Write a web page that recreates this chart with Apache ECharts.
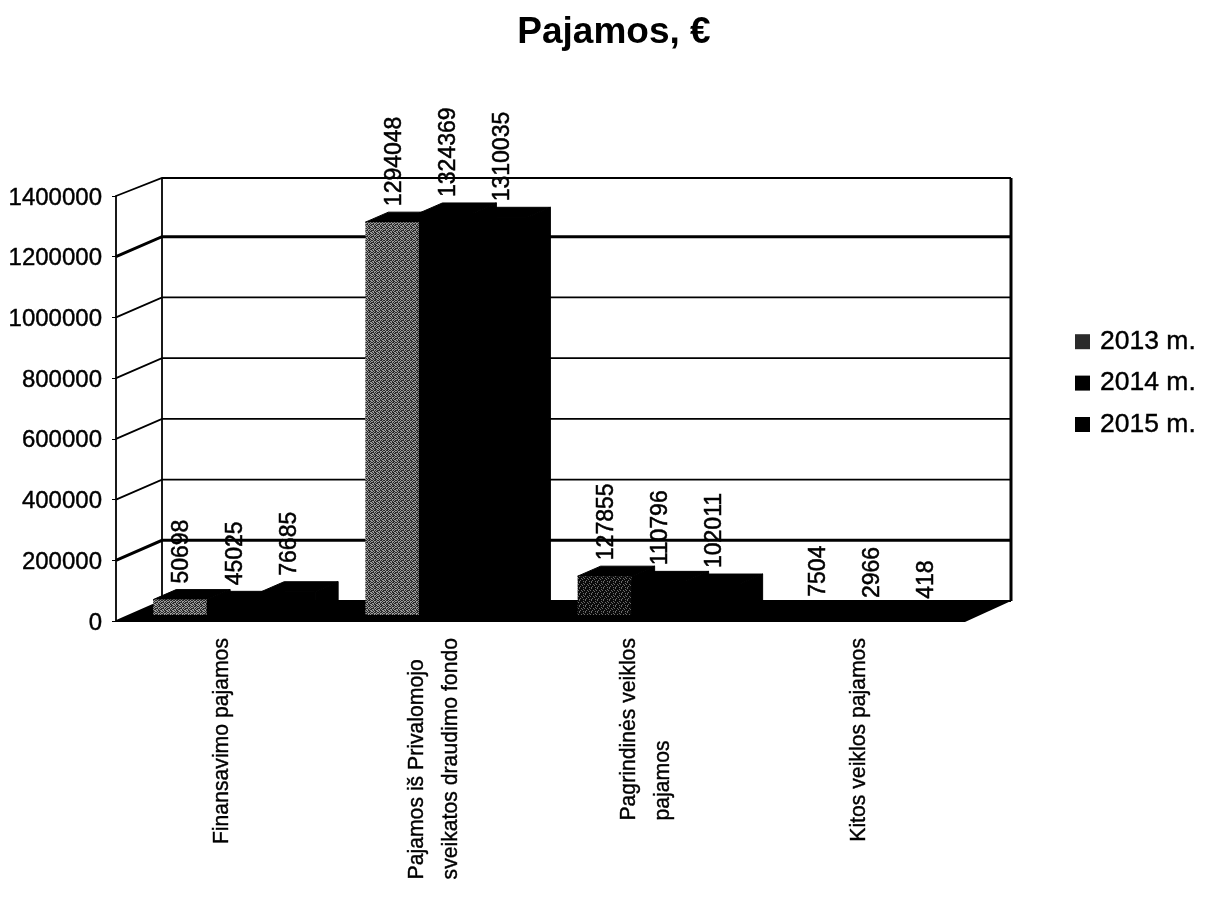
<!DOCTYPE html>
<html><head><meta charset="utf-8">
<style>html,body{margin:0;padding:0;background:#fff}#c{width:1209px;height:907px}</style>
<script src="https://cdn.jsdelivr.net/npm/echarts@6/dist/echarts.min.js"></script>
</head><body><div id="c"></div>
<script>
const categories = ['Finansavimo pajamos','Pajamos iš Privalomojo\nsveikatos draudimo fondo','Pagrindinės veiklos\npajamos','Kitos veiklos pajamos'];
const seriesNames = ['2013 m.','2014 m.','2015 m.'];
const values2013 = [50698,1294048,127855,7504];
const values2014 = [45025,1324369,110796,2966];
const values2015 = [76685,1310035,102011,418];
const axisTicks = [0,200000,400000,600000,800000,1000000,1200000,1400000];

const FONT = '"Liberation Sans", Arial, sans-serif';
function makeTile(light, dark, bits){
  const n = bits.length, cv = document.createElement('canvas');
  cv.width = n; cv.height = n;
  const g = cv.getContext('2d');
  bits.forEach((row,y)=>[...row].forEach((ch,x)=>{g.fillStyle = ch==='1'?dark:light; g.fillRect(x,y,1,1);}));
  return {image:cv, repeat:'repeat'};
}
const greyTile = makeTile('#9a9a9a','#2a2a2a',['101101','010010','110101','001011','101100','010110']);
const darkTile = makeTile('#6a6a6a','#0a0a0a',['111011','101111','110110','011111','111101','101011']);

const WALL_DX = 46, WALL_DY = 20;
const BAR_WIDTH_SHARE = 54/212.25, DEPTH_DX = 23, DEPTH_DY = 10, BASE_DX = 12, BASE_DY = 6;
const solid = {fill:'#000', stroke:'#000', lineWidth:1};

function renderWall(params, api){
  const v = api.value(0), cs = params.coordSys;
  const y = api.coord([0, v])[1];
  const left = cs.x, back = left + WALL_DX, right = cs.x + cs.width + WALL_DX;
  const by = y - (v===1400000 ? 18 : WALL_DY);
  const w = (v===200000 || v===1200000) ? 3 : 1.8;
  const children = [{type:'polyline', shape:{points:[[left,y],[back,by],[right,by]]}, style:{stroke:'#000', lineWidth:w, fill:null}}];
  if (v===0) {
    const top = cs.y - 18;
    children.push({type:'line', shape:{x1:back,y1:by,x2:back,y2:top}, style:{stroke:'#000',lineWidth:1.8}});
    children.push({type:'line', shape:{x1:right,y1:by,x2:right,y2:top}, style:{stroke:'#000',lineWidth:3}});
    children.push({type:'polygon', shape:{points:[[left-2,y+1],[cs.x+cs.width,y+1],[right,by],[back,by]]}, style:{fill:'#000'}});
  }
  return {type:'group', children};
}
function renderBars(si){
  return function(params, api){
    const c = api.value(0), v = api.value(1);
    const p = api.coord([c, v]), p0 = api.coord([c, 0]);
    const bw = api.size([1,0])[0]*BAR_WIDTH_SHARE;
    const x0 = p[0] + BASE_DX - 1.5*bw + si*bw, x1 = x0 + bw;
    const yB = p0[1] - BASE_DY, yT = p[1] - BASE_DY;
    const patterned = si===0 && c<3;
    const front = patterned ? {fill: c===2 ? darkTile : greyTile} : solid;
    return {type:'group', children:[
      {type:'polygon', shape:{points:[[x0,yT],[x0+DEPTH_DX,yT-DEPTH_DY],[x1+DEPTH_DX,yT-DEPTH_DY],[x1,yT]]}, style:solid},
      {type:'polygon', shape:{points:[[x1,yT],[x1+DEPTH_DX,yT-DEPTH_DY],[x1+DEPTH_DX,yB-DEPTH_DY],[x1,yB]]}, style:solid},
      {type:'rect', shape:{x:x0,y:yT,width:bw,height:yB-yT}, style:front},
      {type:'text', x:x0+bw/2+2, y:yT-16, rotation:Math.PI/2, z2:50,
       style:{text:String(v), align:'left', verticalAlign:'middle', font:'23px '+FONT, fill:'#000', stroke:'#000', lineWidth:0.5}}
    ]};
  };
}
const barSeries = [values2013,values2014,values2015].map((vals,si)=>({
  name:seriesNames[si], type:'custom', coordinateSystem:'cartesian2d', z:3,
  itemStyle:{color: si===0 ? '#2b2b2b' : '#000'},
  renderItem:renderBars(si), encode:{x:0,y:1},
  data:vals.map((v,i)=>[i,v])
}));
const chart = echarts.init(document.getElementById('c'), null, {renderer:'canvas'});
chart.setOption({
  animation:false, backgroundColor:'#fff',
  title:{text:'Pajamos, €', left:609, top:9, textAlign:'center',
    textStyle:{fontFamily:FONT, fontSize:37, fontWeight:'bold', color:'#000'}},
  legend:{orient:'vertical', left:1070, top:323, itemWidth:15, itemHeight:15, itemGap:14,
    data:seriesNames, selectedMode:false, icon:'rect',
    textStyle:{fontFamily:FONT, fontSize:26.5, color:'#000', padding:[0,0,0,5], textBorderColor:'#000', textBorderWidth:0.4}},
  grid:{left:116, right:244, top:196, bottom:286, outerBoundsMode:'none'},
  xAxis:{type:'category', data:categories, axisLine:{show:false}, axisTick:{show:false},
    axisLabel:{rotate:90, interval:0, margin:17, color:'#000',
      formatter:s=>s.split('\n').map(t=>'{l|'+t+'}').join('\n'),
      rich:{l:{align:'left', fontFamily:FONT, fontSize:21.2, lineHeight:34, color:'#000', textBorderColor:'#000', textBorderWidth:0.4}}}},
  yAxis:{type:'value', min:0, max:1400000, interval:200000, splitLine:{show:false},
    axisLine:{show:true, lineStyle:{color:'#000', width:1.8}}, axisTick:{show:true, length:4, lineStyle:{color:'#000'}},
    axisLabel:{margin:14, color:'#000', formatter:v=>'{n|'+v+'}',
      rich:{n:{padding:[4,0,0,0], fontFamily:FONT, fontSize:24, color:'#000', textBorderColor:'#000', textBorderWidth:0.4}}}},
  series:[{type:'custom', name:'walls', coordinateSystem:'cartesian2d', z:1, silent:true,
    renderItem:renderWall, encode:{y:0}, clip:false, data:axisTicks.map(v=>[v])}].concat(barSeries)
});
</script></body></html>
